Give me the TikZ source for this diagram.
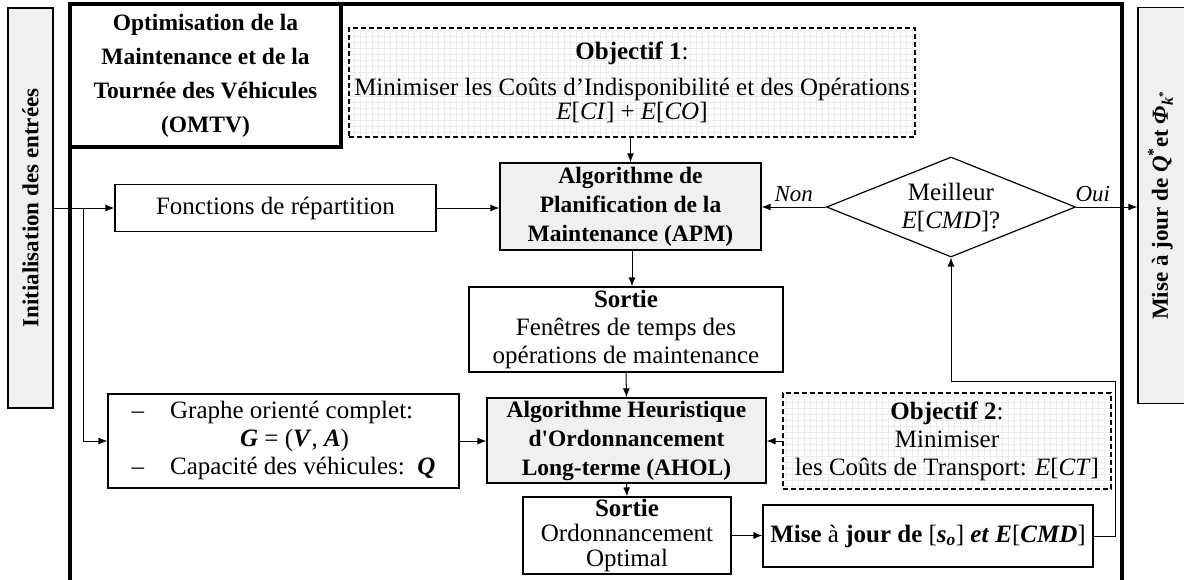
\documentclass[tikz,border=0pt]{standalone}
\usepackage{fontspec}
\setmainfont{Liberation Serif}
\usetikzlibrary{arrows.meta,shapes.geometric}
\newcommand{\mi}[1]{\textit{#1}}
\newcommand{\mbi}[1]{\textbf{\textit{#1}}}
\tikzset{
  box/.style={draw, line width=1.2pt, inner sep=0pt, align=center, font=\fontsize{25}{28}\selectfont},
  bbox/.style={box, font=\fontsize{23.5}{29}\selectfont\bfseries},
  greybox/.style={bbox, fill=gray!12},
  objbox/.style={box, dash pattern=on 5pt off 3pt, line width=1.2pt},
  arr/.style={line width=1pt, -{Latex[length=9pt,width=7pt]}},
  lbl/.style={font=\fontsize{23}{27}\selectfont\itshape},
  gridl/.style={gray!15, line width=0.3pt}
}
\begin{document}
\begin{tikzpicture}[x=1pt,y=-1pt]
\useasboundingbox (0,0) rectangle (1184,579);
% outer frame
\draw[line width=3.5pt] (70,600) -- (70,4) -- (1122,4) -- (1122,600);
% side boxes
\node[box, fill=gray!12, minimum width=45pt, minimum height=400pt, font=\fontsize{23}{27}\selectfont\bfseries] (init) at (30.5,208) {\rotatebox{90}{Initialisation des entrées}};
\node[box, fill=gray!12, minimum width=57pt, minimum height=396pt, font=\fontsize{23}{27}\selectfont\bfseries] (rbox) at (1166.5,205.5) {\hspace*{-12pt}\rotatebox{90}{Mise à jour de \mbi{Q}\textsuperscript{*}et \mbi{Φ}\textsubscript{\mbi{k}\textsuperscript{*}}}};
% title box
\node[bbox, line width=3.5pt, minimum width=271pt, minimum height=143pt, font=\fontsize{23.5}{34}\selectfont\bfseries] (omtv) at (205.5,75.5) {Optimisation de la\\Maintenance et de la\\Tournée des Véhicules\\(OMTV)};
% objective 1
\draw[gridl, step=6pt] (349,28) grid (915,137);
\node[objbox, minimum width=566pt, minimum height=109pt, font=\fontsize{25}{30}\selectfont] (obj1) at (632,82.5) {\textbf{Objectif 1}:\\[6pt]Minimiser les Coûts d’Indisponibilité et des Opérations\\[-6pt]\mi{E}[\mi{CI}] + \mi{E}[\mi{CO}]};
% APM
\node[greybox, minimum width=261pt, minimum height=87pt] (apm) at (630.5,206.5) {Algorithme de\\Planification de la\\Maintenance (APM)};
% fonctions
\node[box, minimum width=321pt, minimum height=47pt] (fonc) at (275.5,208) {Fonctions de répartition};
% decision
\node[draw, diamond, line width=1.2pt, inner sep=0pt, minimum width=249pt, minimum height=100pt, aspect=2.49, align=center, font=\fontsize{25}{28}\selectfont] (dia) at (951,207) {Meilleur\\\mi{E}[\mi{CMD}]?};
% sortie 1
\node[box, minimum width=314pt, minimum height=85pt] (s1) at (626,329.5) {\textbf{Sortie}\\Fenêtres de temps des\\opérations de maintenance};
% graph box
\node[box, minimum width=351pt, minimum height=94pt] (graph) at (283.5,441) {\begin{tabular}{@{}l@{\hspace{26pt}}l@{}}-- & Graphe orienté complet:\\ & \hspace{70pt}\mbi{G} = (\mbi{V}, \mbi{A})\\-- & Capacité des véhicules:\ \ \mbi{Q}\end{tabular}};
% AHOL
\node[greybox, minimum width=279pt, minimum height=85pt] (ahol) at (626.5,440.5) {Algorithme Heuristique\\d\textquotesingle Ordonnancement\\Long-terme (AHOL)};
% objective 2
\draw[gridl, step=6pt] (783,393) grid (1111,489);
\node[objbox, minimum width=328pt, minimum height=96pt] (obj2) at (947,441) {\textbf{Objectif 2}:\\Minimiser\\les Coûts de Transport: \mi{E}[\mi{CT}]};
% sortie 2
\node[box, minimum width=208pt, minimum height=77pt, font=\fontsize{25}{25}\selectfont] (s2) at (627,535.5) {\textbf{Sortie}\\Ordonnancement\\Optimal};
% mise a jour
\node[box, minimum width=330pt, minimum height=62pt, font=\fontsize{25}{27}\selectfont] (maj) at (928,536) {\textbf{Mise} à \textbf{jour de} [\mbi{s}\textsubscript{\mbi{o}}] \mbi{et} \mbi{E}[\mbi{CMD}]};
% connectors
\coordinate (br) at (83,208);
\draw[arr] (init.east) -- (fonc.west);
\draw[arr] (br) |- (graph.west);
\draw[arr] (fonc.east) -- (fonc.east -| apm.west);
\draw[arr] (obj1.south -| apm.north) -- (apm.north);
\draw[arr] (apm.south -| 632,0) -- (s1.north -| 632,0);
\draw[arr] (s1.south) -- (ahol.north);
\draw[arr] (graph.east) -- (graph.east -| ahol.west);
\draw[arr] (obj2.west) -- (obj2.west -| ahol.east);
\draw[arr] (ahol.south) -- (s2.north);
\draw[arr] (s2.east) -- (s2.east -| maj.west);
\draw[arr] (maj.east) -- (1115,536) -- (1115,381) -- (951,381) -- (dia.south);
\draw[arr] (dia.west) -- node[lbl, above=1pt] {Non} (dia.west -| apm.east);
\draw[arr] (dia.east) -- node[lbl, above=1pt, pos=0.5, xshift=-14pt] {Oui} (dia.east -| rbox.west);
\end{tikzpicture}
\end{document}
